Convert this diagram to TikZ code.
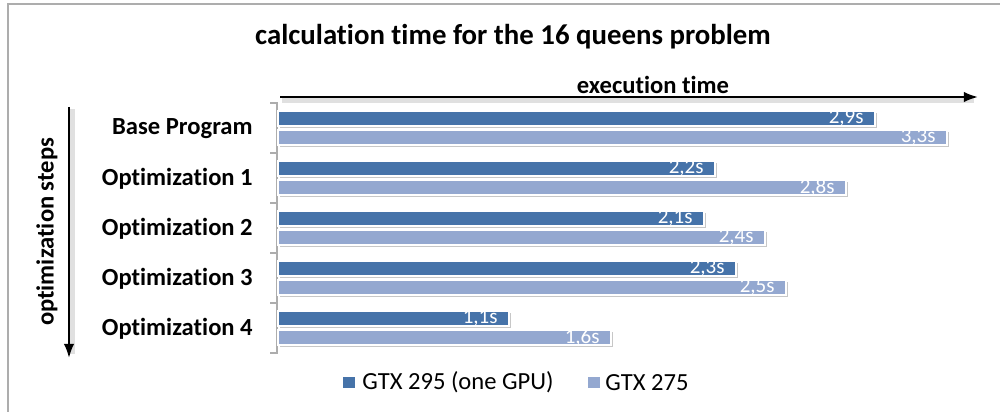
\documentclass[tikz,border=0pt]{standalone}
\usepackage{fontspec}
\setmainfont{Carlito}[Ligatures=NoCommon]
\usetikzlibrary{arrows.meta}

\definecolor{gtxdark}{HTML}{4673A9}
\definecolor{gtxlight}{HTML}{94A8D0}
\definecolor{framegray}{HTML}{ADADAD}

\begin{document}
\begin{tikzpicture}[x=0.02cm, y=-0.02cm,
	bar/.style={draw=white, line width=0.6pt},
	barshadow/.style={fill=black!22},
	value/.style={white, font=\fontsize{12}{12}\selectfont, anchor=east, inner sep=0pt},
	category/.style={font=\bfseries\fontsize{14}{14}\selectfont, anchor=east, inner sep=0pt},
	axisarrow/.style={-{Latex[length=8pt,width=6pt]}, line width=1.3pt},
	legendtext/.style={font=\fontsize{14}{14}\selectfont, anchor=west, inner sep=0pt}]
	
	\useasboundingbox (0,0) rectangle (1000,412);
	
	% Frame, only top and left edge visible
	\draw[framegray, line width=1.2pt] (8,412) -- (8,4) -- (1000,4);
	
	% Title
	\node[font=\bfseries\fontsize{16.4}{17}\selectfont] (title) at (513,37) {calculation time for the 16 queens problem};
	
	\coordinate (x_start) at (280,97);
	\coordinate (x_end) at (978,97);
	\coordinate (y_start) at (69,107);
	\coordinate (y_end) at (69,358);
	
	% Arrow shadows
	\draw[black!12, line width=3pt] ([shift={(2,3)}]x_start) -- ([shift={(-4,3)}]x_end);
	\draw[black!12, line width=3pt] ([shift={(3,2)}]y_start) -- ([shift={(3,-4)}]y_end);
	
	% Arrows
	\draw[axisarrow] (x_start) -- (x_end);
	\draw[axisarrow] (y_start) -- (y_end);
	\node[font=\bfseries\fontsize{14}{14}\selectfont] (x_label) at (653,85) {execution time};
	\node[rotate=90, font=\bfseries\fontsize{14}{14}\selectfont] (y_label) at (47,232) {optimization steps};
	
	% Category axis with ticks
	\draw[framegray, line width=0.8pt] (270,103) -- (277,103) -- (277,353) -- (270,353);
	\foreach \t in {153,203,253,303} {
		\draw[framegray, line width=0.8pt] (270,\t) -- (277,\t);
	}
	
	% Bars: index/category/dark end/dark value/light end/light value
	\foreach \i/\name/\dark/\dval/\light/\lval in {
		0/Base Program/875/{2,9s}/947/{3,3s},
		1/Optimization 1/715/{2,2s}/846/{2,8s},
		2/Optimization 2/704/{2,1s}/765/{2,4s},
		3/Optimization 3/736/{2,3s}/786/{2,5s},
		4/Optimization 4/509/{1,1s}/611/{1,6s}} {
		\pgfmathsetmacro\top{103+50*\i}
		\fill[barshadow] (280,\top+9.5) rectangle (\dark+2,\top+24.5);
		\filldraw[bar, fill=gtxdark] (278,\top+8) rectangle (\dark,\top+23);
		\node[value] (dval\i) at (\dark-11,\top+15.5) {\dval};
		\fill[barshadow] (280,\top+28.5) rectangle (\light+2,\top+43.5);
		\filldraw[bar, fill=gtxlight] (278,\top+27) rectangle (\light,\top+42);
		\node[value] (lval\i) at (\light-11,\top+34.5) {\lval};
		\node[category] (cat\i) at (253,\top+26) {\name};
	}
	
	% Legend
	\fill[gtxdark] (343,377) rectangle (355,388);
	\node[legendtext] (leg_dark) at (362,382.5) {GTX 295 (one GPU)};
	\fill[gtxlight] (588,377) rectangle (600,388);
	\node[legendtext] (leg_light) at (605,382.5) {GTX 275};
	
\end{tikzpicture}
\end{document}
